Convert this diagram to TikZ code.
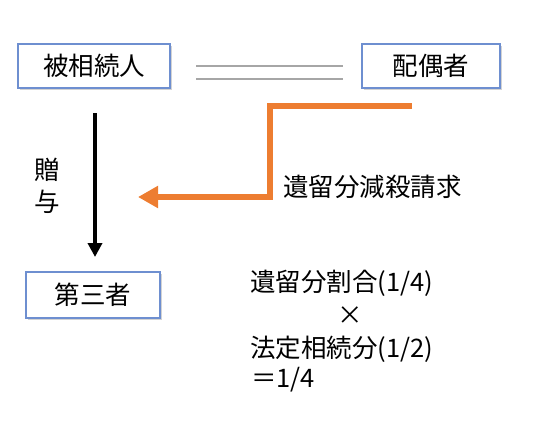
\documentclass[tikz,border=0pt]{standalone}
\usepackage{fontspec}
\setmainfont{Noto Sans CJK JP}
\usetikzlibrary{arrows.meta,shadows}
\definecolor{boxblue}{HTML}{6E8FD0}
\definecolor{orng}{HTML}{ED7D31}
\definecolor{lgray}{HTML}{A6A6A6}
\tikzset{
  person/.style={draw=boxblue, line width=1.6pt, fill=white, inner sep=0pt,
    drop shadow={opacity=0.35, shadow xshift=1.5pt, shadow yshift=-2pt},
    font=\fontsize{25.5}{30}\selectfont},
  lbl/.style={inner sep=0pt, font=\fontsize{25.5}{30}\selectfont},
  marry/.style={draw=lgray, line width=1.5pt},
  claim/.style={draw=orng, line width=6pt, -{Triangle[length=20pt,width=21pt]}},
  gift/.style={draw=black, line width=4pt, -{Triangle[length=14pt,width=14pt]}},
}
\begin{document}
\begin{tikzpicture}[x=1pt,y=-1pt]
\useasboundingbox (0,0) rectangle (535,424);
\node[person, minimum width=152pt, minimum height=44pt] (hi) at (94,66) {被相続人};
\node[person, minimum width=138pt, minimum height=44pt] (sp) at (431,66) {配偶者};
\node[person, minimum width=134pt, minimum height=46pt] (th) at (93,295) {第三者};
% marriage double line
\coordinate (m1a) at (196,66); \coordinate (m1b) at (343,66);
\coordinate (m2a) at (196,79); \coordinate (m2b) at (343,79);
\draw[marry] (m1a) -- (m1b);
\draw[marry] (m2a) -- (m2b);
% gift arrow
\coordinate (g1) at (95,113); \coordinate (g2) at (95,257);
\draw[gift] (g1) -- (g2);
\node[lbl, align=center] (gl) at (47,186) {贈\\[2pt]与};
% claim arrow
\coordinate (c1) at (412,106); \coordinate (c2) at (270,106);
\coordinate (c3) at (270,197); \coordinate (c4) at (138,197);
\draw[claim] (c1) -- (c2) -- (c3) -- (c4);
\node[lbl, anchor=west] (cl) at (283,187) {遺留分減殺請求};
% formula
\node[lbl, anchor=west] (f1) at (250,283) {遺留分割合(1/4)};
\node[lbl] (f2) at (350,316) {×};
\node[lbl, anchor=west] (f3) at (250,349) {法定相続分(1/2)};
\node[lbl, anchor=west] (f4) at (251,380) {＝1/4};
\end{tikzpicture}
\end{document}
